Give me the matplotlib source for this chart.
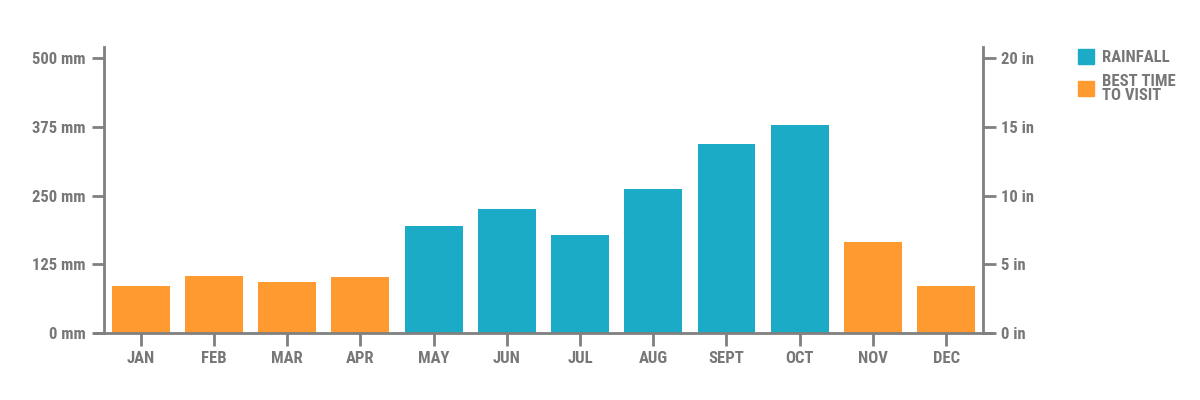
import matplotlib
matplotlib.use("Agg")
import matplotlib.pyplot as plt
from matplotlib import font_manager
from matplotlib.patches import Patch

# data (mm)
months = ["JAN", "FEB", "MAR", "APR", "MAY", "JUN", "JUL", "AUG", "SEPT", "OCT", "NOV", "DEC"]
rain_mm = [85, 103, 92, 101, 194, 225, 178, 262, 344, 378, 165, 85]
best_time = [True, True, True, True, False, False, False, False, False, False, True, True]
mm_ticks = [0, 125, 250, 375, 500]
in_ticks = [0, 5, 10, 15, 20]

teal = "#1CABC6"
orange = "#FF9A31"
grey = "#777777"
line_grey = "#808080"

# pick a narrow font if there is one
names = set(f.name for f in font_manager.fontManager.ttflist)
family = "DejaVu Sans"
stretch = "normal"
for cand in ["Roboto Condensed", "Liberation Sans Narrow", "Open Sans Condensed"]:
    if cand in names:
        family = cand
        break
else:
    stretch = "condensed"
plt.rcParams["font.family"] = [family, "DejaVu Sans"]
plt.rcParams["font.weight"] = "bold"

fig = plt.figure(figsize=(12, 4), dpi=100)
ax = fig.add_axes([0.0867, 0.168, 0.7323, 0.7145])

colors = [orange if b else teal for b in best_time]
ax.bar(range(len(months)), rain_mm, width=0.79, color=colors, zorder=2)

ax.set_xlim(-0.5, len(months) - 0.5)
ax.set_ylim(0, 520.6)
ax.set_yticks(mm_ticks)
ax.set_yticklabels([f"{t} mm" for t in mm_ticks])
ax.set_xticks(range(len(months)))
ax.set_xticklabels(months)

ax2 = ax.twinx()
ax2.set_ylim(0, 20 * 520.6 / 500)
ax2.set_yticks(in_ticks)
ax2.set_yticklabels([f"{t} in" for t in in_ticks])

for a in (ax, ax2):
    for s in ["top", "bottom"]:
        a.spines[s].set_visible(False)
    for s in ["left", "right"]:
        a.spines[s].set_color(line_grey)
        a.spines[s].set_linewidth(2)
    a.tick_params(colors=line_grey, width=2, length=9, labelcolor=grey, labelsize=12, pad=4)
    for lab in a.get_xticklabels() + a.get_yticklabels():
        lab.set_fontweight("bold")
        lab.set_fontstretch(stretch)
ax.spines["right"].set_visible(False)
ax2.spines["left"].set_visible(False)
ax.tick_params(axis="x", pad=4)

# baseline runs a little past both vertical spines
ax.plot([-0.012, 1.012], [0, 0], transform=ax.transAxes, color=line_grey, lw=2,
        clip_on=False, zorder=3, solid_capstyle="butt")

handles = [Patch(color=teal, label="RAINFALL"), Patch(color=orange, label="BEST TIME\nTO VISIT")]
leg = fig.legend(handles=handles, loc="upper left", bbox_to_anchor=(0.898, 0.877),
                 frameon=False, handlelength=1.0, handleheight=1.0, handletextpad=0.45,
                 labelspacing=0.5, borderaxespad=0, borderpad=0,
                 prop={"family": [family, "DejaVu Sans"], "weight": "bold", "size": 12,
                       "stretch": stretch})
for t in leg.get_texts():
    t.set_color(grey)
    t.set_linespacing(0.95)

fig.savefig("out.png", dpi=100)
